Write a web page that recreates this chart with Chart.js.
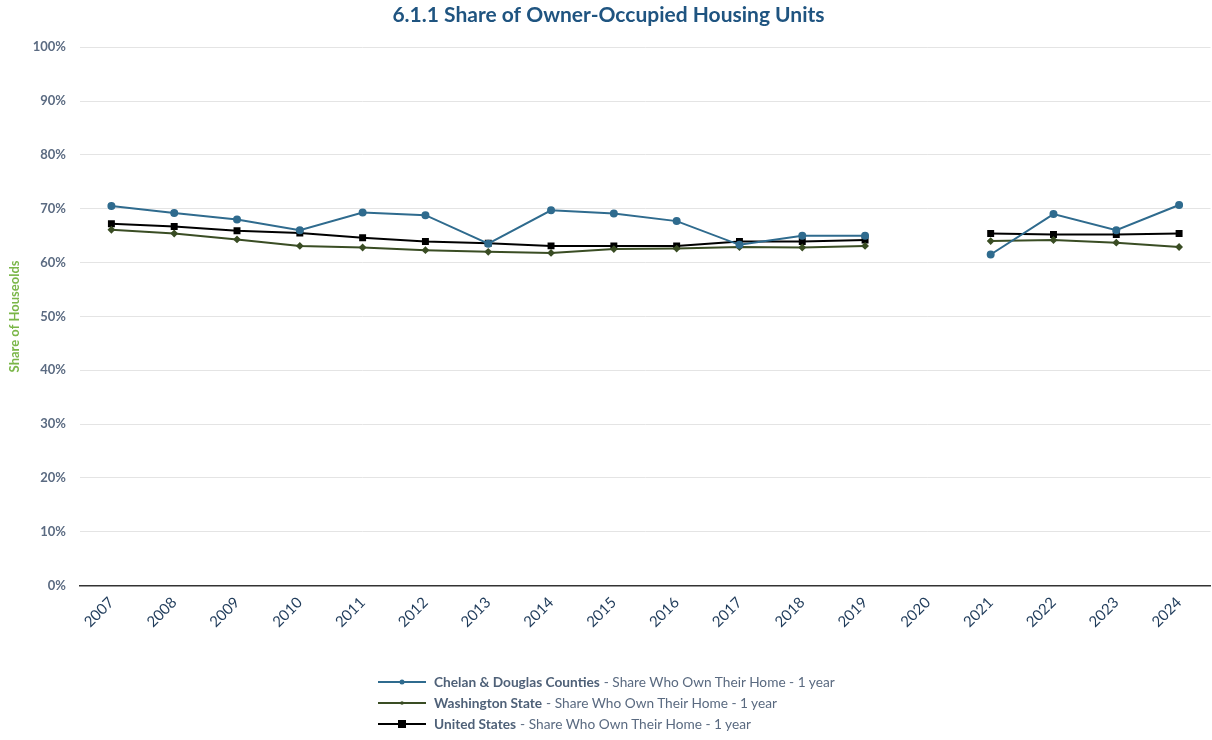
<!DOCTYPE html>
<html>
<head>
<meta charset="utf-8">
<script src="https://cdn.jsdelivr.net/npm/chart.js@4.4.1/dist/chart.umd.min.js"></script>
<style>
  html, body { margin: 0; padding: 0; background: #fff; }
  body { width: 1212px; height: 740px; overflow: hidden; font-family: Lato, "Open Sans", sans-serif; position: relative; }
  #wrap { position: relative; width: 1217px; height: 639px; }
  #leyenda { position: absolute; left: 378px; top: 671px; font-size: 13.7px; color: #5a6a80; }
  .item { height: 21px; line-height: 21px; display: flex; align-items: center; }
  .item canvas { margin-right: 8px; }
  .item b { color: #4f6178; margin-right: 4px; }
</style>
</head>
<body>
<div id="wrap"><canvas id="miGrafica"></canvas></div>
<div id="leyenda"></div>
<script>
// datos
const anios = ["2007","2008","2009","2010","2011","2012","2013","2014","2015","2016","2017","2018","2019","2020","2021","2022","2023","2024"];
const chelanDouglas = [70.5, 69.2, 68.0, 66.0, 69.3, 68.8, 63.5, 69.7, 69.1, 67.7, 63.3, 65.0, 65.0, null, 61.5, 69.0, 66.0, 70.7];
const washington = [66.1, 65.4, 64.3, 63.1, 62.8, 62.3, 62.0, 61.8, 62.5, 62.6, 62.9, 62.8, 63.1, null, 64.0, 64.2, 63.7, 62.9];
const estadosUnidos = [67.2, 66.7, 65.9, 65.5, 64.6, 63.9, 63.6, 63.1, 63.1, 63.1, 63.9, 63.9, 64.2, null, 65.4, 65.2, 65.2, 65.4];
const ticksY = [0, 10, 20, 30, 40, 50, 60, 70, 80, 90, 100];

const series = [
  { nombre: "Chelan & Douglas Counties", datos: chelanDouglas, color: "#2f6b8e", punto: "circle", radio: 3 },
  { nombre: "Washington State", datos: washington, color: "#3a4d24", punto: "rectRot", radio: 2.5 },
  { nombre: "United States", datos: estadosUnidos, color: "#000000", punto: "rect", radio: 3.5 }
];
const sufijo = "Share Who Own Their Home - 1 year";

const ctx = document.getElementById("miGrafica").getContext("2d");
new Chart(ctx, {
  type: "line",
  data: {
    labels: anios,
    datasets: series.map(s => ({
      label: s.nombre + " - " + sufijo,
      data: s.datos,
      borderColor: s.color,
      backgroundColor: s.color,
      borderWidth: 2,
      pointStyle: s.punto,
      pointRadius: s.radio,
      pointHoverRadius: s.radio + 1,
      spanGaps: false,
      tension: 0,
      fill: false
    }))
  },
  options: {
    responsive: true,
    maintainAspectRatio: false,
    animation: false,
    layout: { padding: { top: 0, right: 2, left: 2, bottom: 0 } },
    plugins: {
      legend: { display: false },
      tooltip: { enabled: false },
      title: {
        display: true,
        text: "6.1.1 Share of Owner-Occupied Housing Units",
        color: "#1f5480",
        font: { family: "Lato", size: 21, weight: "bold" },
        padding: { top: 3, bottom: 19 }
      }
    },
    scales: {
      x: {
        offset: true,
        grid: { display: false, drawTicks: false },
        border: { color: "#333333", width: 1.5 },
        ticks: {
          color: "#1f3b5a",
          font: { family: "Lato", size: 15 },
          minRotation: 45,
          maxRotation: 45,
          padding: 8
        }
      },
      y: {
        min: 0,
        max: 100,
        afterBuildTicks: axis => { axis.ticks = ticksY.map(v => ({ value: v })); },
        afterFit: axis => { axis.width = 78; },
        grid: { color: "#e4e4e4", drawTicks: false },
        border: { display: false },
        ticks: {
          color: "#5b6b82",
          font: { family: "Lato", size: 13, weight: "bold" },
          padding: 14,
          callback: v => v + "%"
        },
        title: {
          display: true,
          text: "Share of Houseolds",
          color: "#7ab648",
          font: { family: "Lato", size: 13, weight: "bold" },
          padding: { top: 5, bottom: 9 }
        }
      }
    }
  }
});

// leyenda
const leyenda = document.getElementById("leyenda");
series.forEach(s => {
  const fila = document.createElement("div");
  fila.className = "item";
  const c = document.createElement("canvas");
  c.width = 48; c.height = 12;
  const g = c.getContext("2d");
  g.strokeStyle = s.color; g.fillStyle = s.color; g.lineWidth = 2;
  g.beginPath(); g.moveTo(0, 6); g.lineTo(48, 6); g.stroke();
  if (s.punto === "circle") { g.beginPath(); g.arc(24, 6, 2.5, 0, Math.PI * 2); g.fill(); }
  else if (s.punto === "rect") { g.fillRect(20, 2, 8, 8); }
  else { g.beginPath(); g.arc(24, 6, 1.8, 0, Math.PI * 2); g.fill(); }
  fila.appendChild(c);
  const b = document.createElement("b");
  b.textContent = s.nombre;
  fila.appendChild(b);
  fila.appendChild(document.createTextNode("- " + sufijo));
  leyenda.appendChild(fila);
});
</script>
</body>
</html>
